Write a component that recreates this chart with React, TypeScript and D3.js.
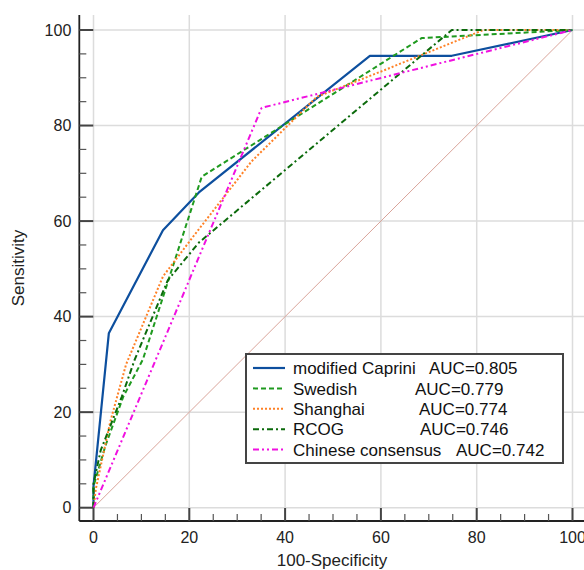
import React from 'react';
import { scaleLinear, line } from 'd3';

const width = 584;
const height = 570;

// axis ticks
const majorTicks = [0, 20, 40, 60, 80, 100];
const minorTicks = [5, 10, 15, 25, 30, 35, 45, 50, 55, 65, 70, 75, 85, 90, 95];

// ROC curves (100-Specificity, Sensitivity)
const capriniX = [0, 0, 3.2, 14.5, 22, 57.7, 74.8, 100];
const capriniY = [0, 4.5, 36.5, 58.1, 66, 94.6, 94.6, 100];

const swedishX = [0, 0, 2.5, 6.2, 10.3, 22.6, 68.5, 100];
const swedishY = [0, 4.5, 13, 23.2, 31, 69.3, 98.3, 100];

const shanghaiX = [0, 0.5, 3.5, 6.8, 14.5, 21, 33, 46.6, 60, 81.4, 100];
const shanghaiY = [0, 4, 18, 30, 48.4, 57, 72.5, 86, 91.3, 100, 100];

const rcogX = [0, 0, 1.5, 5.9, 8.6, 15.5, 22, 74.8, 100];
const rcogY = [0, 5, 12, 23.2, 31, 47.6, 55.5, 100, 100];

const chineseX = [0, 35.1, 100];
const chineseY = [0, 83.7, 100];

const names = ['modified Caprini', 'Swedish', 'Shanghai', 'RCOG', 'Chinese consensus'];
const aucs = ['AUC=0.805', 'AUC=0.779', 'AUC=0.774', 'AUC=0.746', 'AUC=0.742'];

const series = [
  { xs: capriniX, ys: capriniY, color: '#0d4f9e', dash: null, w: 2.2 },
  { xs: swedishX, ys: swedishY, color: '#1f9a1f', dash: '5,3', w: 2 },
  { xs: shanghaiX, ys: shanghaiY, color: '#ff8126', dash: '2,2', w: 2 },
  { xs: rcogX, ys: rcogY, color: '#0b6a0b', dash: '6,3,2,3', w: 2 },
  { xs: chineseX, ys: chineseY, color: '#f010e0', dash: '6,3,2,3,2,3', w: 2 },
];
const aucOffsets = [183, 169, 173, 174, 210];

const font = "Arial, 'Liberation Sans', sans-serif";

export default function App() {
  const xScale = scaleLinear().domain([0, 100]).range([93.5, 572.5]);
  const yScale = scaleLinear().domain([0, 100]).range([507.7, 30]);

  const left = 79.3;
  const top = 15;
  const bottom = 521;
  const right = width;

  const path = line<[number, number]>()
    .x(d => xScale(d[0]))
    .y(d => yScale(d[1]));

  const lg = { x: 246, y: 354, w: 317, h: 109 };

  return (
    <svg width={width} height={height} style={{ position: 'absolute', left: 0, top: 0, background: '#fff' }}>
      {/* grid */}
      {majorTicks.map(t => (
        <g key={'g' + t}>
          <line x1={xScale(t)} x2={xScale(t)} y1={top} y2={bottom} stroke="#dcdcdc" strokeWidth={1.5} />
          <line x1={left} x2={right} y1={yScale(t)} y2={yScale(t)} stroke="#dcdcdc" strokeWidth={1.5} />
        </g>
      ))}

      {/* diagonal */}
      <line x1={xScale(0)} y1={yScale(0)} x2={xScale(100)} y2={yScale(100)} stroke="#d9a49a" strokeWidth={1} />

      {/* curves */}
      {series.map((s, i) => (
        <path
          key={i}
          d={path(s.xs.map((x, j) => [x, s.ys[j]] as [number, number])) || ''}
          fill="none"
          stroke={s.color}
          strokeWidth={s.w}
          strokeDasharray={s.dash || undefined}
          strokeLinejoin="round"
        />
      ))}

      {/* axes */}
      <line x1={left} x2={left} y1={top} y2={bottom} stroke="#222" strokeWidth={1.8} />
      <line x1={left} x2={right} y1={bottom} y2={bottom} stroke="#222" strokeWidth={1.8} />
      {majorTicks.map(t => (
        <g key={'t' + t}>
          <line x1={left} x2={left + 14} y1={yScale(t)} y2={yScale(t)} stroke="#444" strokeWidth={2} />
          <line x1={xScale(t)} x2={xScale(t)} y1={bottom} y2={bottom - 13} stroke="#444" strokeWidth={2} />
          <text x={left - 8} y={yScale(t)} dy="0.36em" textAnchor="end" fontSize={16} fontFamily={font} fill="#222">
            {t}
          </text>
          <text x={xScale(t)} y={543} textAnchor="middle" fontSize={16} fontFamily={font} fill="#222">
            {t}
          </text>
        </g>
      ))}
      {minorTicks.map(t => (
        <g key={'m' + t}>
          <line x1={left} x2={left + 7} y1={yScale(t)} y2={yScale(t)} stroke="#555" strokeWidth={1.2} />
          <line x1={xScale(t)} x2={xScale(t)} y1={bottom} y2={bottom - 7} stroke="#555" strokeWidth={1.2} />
        </g>
      ))}

      <text x={332} y={566} textAnchor="middle" fontSize={17} fontFamily={font} fill="#222">
        100-Specificity
      </text>
      <text
        transform={`translate(24,268) rotate(-90)`}
        textAnchor="middle"
        fontSize={17}
        fontFamily={font}
        fill="#222"
      >
        Sensitivity
      </text>

      {/* legend */}
      <rect x={lg.x} y={lg.y} width={lg.w} height={lg.h} fill="#fff" stroke="#444" strokeWidth={2} />
      {series.map((s, i) => {
        const cy = lg.y + 14 + i * 20.4;
        return (
          <g key={'l' + i}>
            <line x1={lg.x + 7} x2={lg.x + 39} y1={cy} y2={cy} stroke={s.color} strokeWidth={s.w} strokeDasharray={s.dash || undefined} />
            <text x={lg.x + 47} y={cy} dy="0.36em" fontSize={17} fontFamily={font} fill="#111">
              {names[i]}
            </text>
            <text x={lg.x + aucOffsets[i]} y={cy} dy="0.36em" fontSize={17} fontFamily={font} fill="#111">
              {aucs[i]}
            </text>
          </g>
        );
      })}
    </svg>
  );
}
